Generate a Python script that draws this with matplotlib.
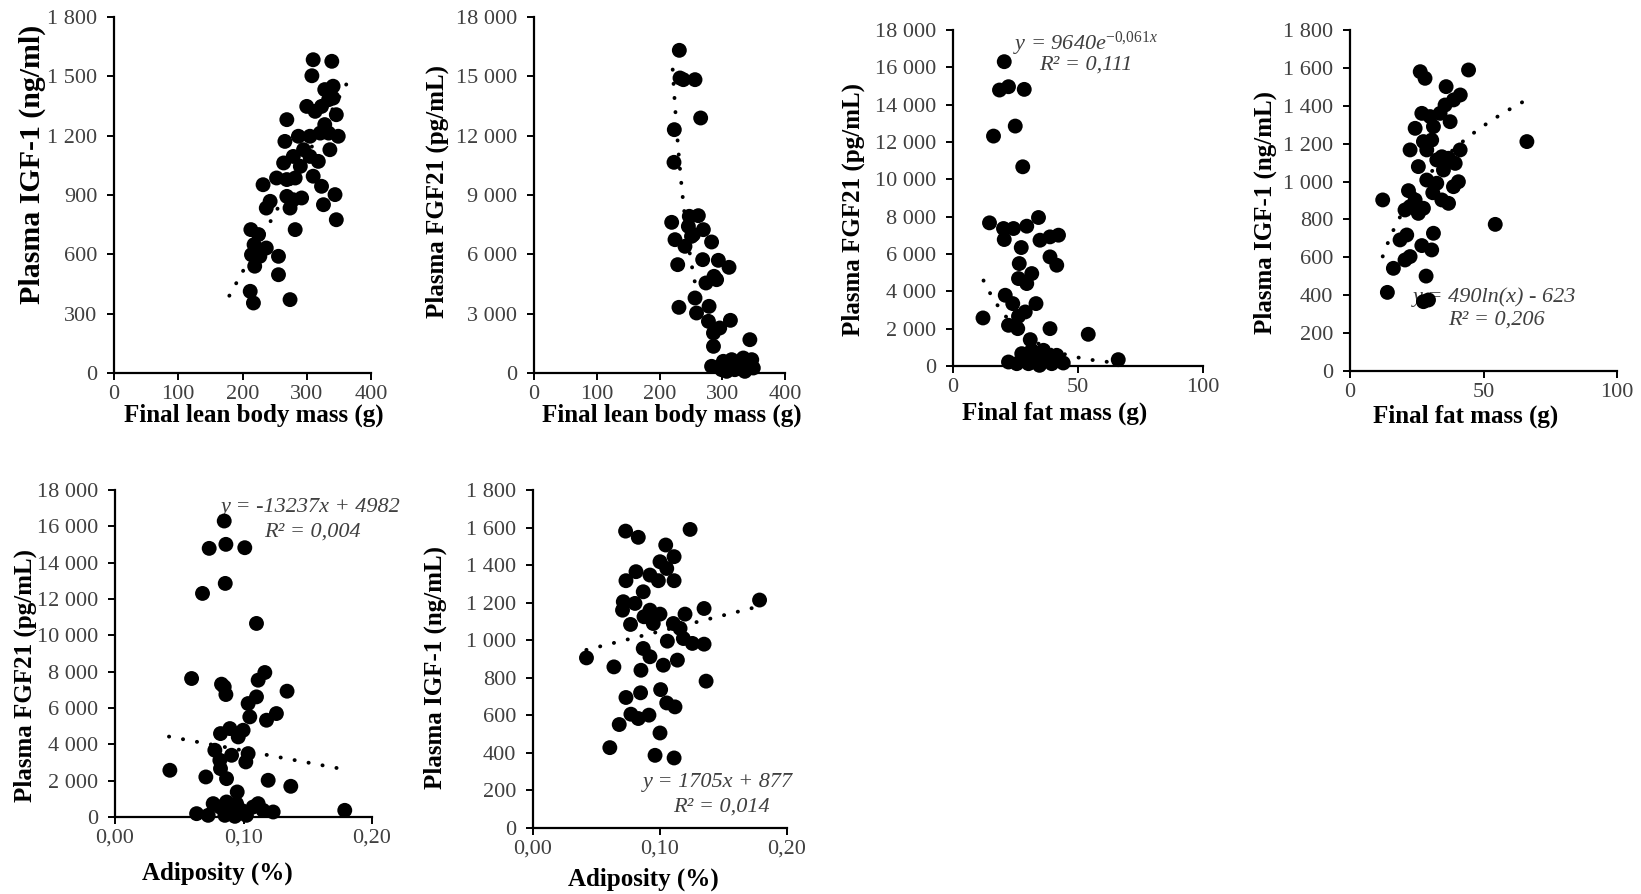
import numpy as np
import matplotlib
matplotlib.use("Agg")
import matplotlib.pyplot as plt
from matplotlib.ticker import FuncFormatter, MultipleLocator

plt.rcParams['font.family'] = ['Liberation Serif', 'DejaVu Serif']
plt.rcParams['mathtext.fontset'] = 'custom'
plt.rcParams['mathtext.rm'] = 'Liberation Serif'
plt.rcParams['mathtext.it'] = 'Liberation Serif:italic'

# panel 1 : IGF-1 vs final lean body mass
lean_a = [310, 339, 308, 328, 341, 341, 300, 313, 323, 334, 346, 328, 269, 321, 334, 349,
          266, 287, 305, 336, 279, 295, 305, 318, 264, 290, 310, 253, 269, 282, 232, 323,
          344, 243, 269, 279, 292, 237, 274, 326, 346, 282, 213, 225, 218, 237, 214, 227,
          256, 219, 256, 212, 217, 274]
igf_a = [1584, 1576, 1503, 1433, 1450, 1390, 1348, 1323, 1348, 1382, 1306, 1256, 1281, 1213,
         1213, 1197, 1171, 1197, 1197, 1129, 1095, 1129, 1095, 1070, 1062, 1045, 995, 986, 978,
         986, 952, 944, 902, 868, 893, 876, 885, 834, 834, 851, 775, 725, 725, 700, 649, 632,
         598, 590, 590, 540, 497, 413, 354, 371]

# panel 2 : FGF21 vs final lean body mass
lean_b = [231.6, 232.7, 238, 256.6, 265.6, 223.6, 223.1, 219.4, 247.5, 261.9, 269.9, 224.7,
          246, 251, 240.6, 254, 283, 229, 268.8, 293.8, 310.8, 274, 286.9, 291, 256.6, 231,
          259, 279, 278, 296, 313, 286, 286, 344, 283, 301.7, 312, 325.6, 333.6, 347, 349.5,
          307, 320, 336, 299, 341.6, 315]
fgf_b = [16315, 14916, 14832, 14832, 12894, 12304, 10652, 7618, 7922, 7955, 7248, 6742,
         7416, 6910, 6405, 6995, 6624, 5478, 5731, 5697, 5343, 4551, 4888, 4719, 3792, 3320,
         3034, 3371, 2612, 2275, 2663, 2022, 1348, 1685, 337, 590, 337, 253, 758, 674, 253,
         84, 168, 84, 168, 337, 674]

# panel 3 : FGF21 vs final fat mass
fat_c = [20.5, 18.6, 22.2, 28.5, 24.9, 16.2, 27.9, 14.6, 34.2, 29.5, 20.2, 24.2, 20.5, 34.8,
         38.8, 42.2, 27.3, 38.8, 41.5, 26.5, 31.5, 26.2, 29.5, 20.9, 23.9, 33.2, 28.9, 26.2,
         12.0, 22.2, 25.9, 38.8, 54.1, 30.9, 22.2, 25.5, 29.5, 31.5, 33.5, 30.2, 34.6, 37.5,
         39.5, 41.5, 44.1, 36.2, 27.5, 66.1]
fgf_c = [16303, 14784, 14962, 14819, 12853, 12317, 10672, 7669, 7955, 7490, 7365, 7365, 6775,
         6739, 6918, 7008, 6346, 5846, 5399, 5488, 4952, 4684, 4416, 3790, 3343, 3343, 2896,
         2663, 2574, 2181, 2002, 2002, 1698, 1412, 214, 125, 483, 840, 661, 125, 36, 483, 125,
         572, 161, 840, 661, 340]

# panel 4 : IGF-1 vs final fat mass
fat_d = [26.3, 28.1, 44.4, 36, 41.3, 35.6, 38.8, 26.9, 30, 37.5, 33.75, 24.4, 31.25, 27.5,
         30.6, 22.5, 28.75, 41.25, 34.4, 36.9, 39.4, 32.5, 25.6, 35, 28.75, 32.5, 40.6, 38.75,
         21.9, 31, 24.4, 34.4, 36.9, 12.25, 20.6, 22.5, 27.5, 25.6, 54.4, 21.25, 18.75, 31.25,
         26.9, 30.6, 22.5, 20.6, 16.25, 28.5, 14, 27.5, 29.4, 66.25]
igf_d = [1580, 1545, 1589, 1501, 1457, 1404, 1431, 1360, 1343, 1316, 1360, 1281, 1290, 1211,
         1219, 1167, 1167, 1167, 1131, 1123, 1096, 1114, 1079, 1061, 1008, 991, 999, 973, 952,
         941, 903, 903, 885, 903, 850, 868, 859, 832, 774, 718, 692, 727, 662, 639, 604, 586,
         542, 501, 415, 366, 375, 1211]

# panel 5 : FGF21 vs adiposity
adip_e = [0.085, 0.0733, 0.0863, 0.101, 0.0858, 0.0681, 0.1101, 0.0596, 0.1166, 0.0829,
          0.085, 0.0863, 0.1114, 0.1101, 0.1339, 0.1036, 0.1049, 0.1179, 0.1256, 0.0894,
          0.0821, 0.0959, 0.0997, 0.0777, 0.0907, 0.0816, 0.1036, 0.1018, 0.0427, 0.0707,
          0.0868, 0.0821, 0.1192, 0.1368, 0.0951, 0.0635, 0.0725, 0.0764, 0.0816, 0.0868,
          0.0907, 0.0946, 0.0984, 0.1023, 0.1075, 0.1114, 0.1153, 0.1231, 0.1788, 0.0855,
          0.0933]
fgf_e = [16293, 14787, 15008, 14824, 12858, 12307, 10654, 7623, 7954, 7311, 7164, 6741, 7531,
         6613, 6925, 6245, 5511, 5327, 5694, 4868, 4592, 4408, 4776, 3674, 3398, 3123, 3490,
         3031, 2572, 2204, 2112, 2663, 2021, 1690, 1378, 184, 92, 735, 551, 827, 184, 735,
         367, 92, 551, 735, 367, 276, 367, 92, 37]

# panel 6 : IGF-1 vs adiposity
adip_f = [0.0729, 0.0829, 0.1237, 0.1045, 0.1111, 0.1, 0.1053, 0.0811, 0.0732, 0.0987,
          0.1111, 0.0921, 0.0868, 0.0711, 0.0803, 0.0705, 0.1347, 0.1784, 0.0921, 0.1,
          0.1197, 0.0874, 0.0768, 0.0947, 0.1105, 0.1158, 0.1184, 0.1255, 0.1347, 0.1058,
          0.0868, 0.0921, 0.1137, 0.0421, 0.0637, 0.085, 0.1026, 0.1363, 0.0732, 0.0847,
          0.1005, 0.1053, 0.1118, 0.0771, 0.0829, 0.0913, 0.0679, 0.1, 0.0605, 0.0961, 0.1111]
igf_f = [1581, 1548, 1590, 1507, 1445, 1418, 1382, 1365, 1317, 1317, 1317, 1347, 1258, 1205,
         1196, 1160, 1169, 1214, 1160, 1139, 1139, 1125, 1084, 1089, 1089, 1063, 1009, 983,
         979, 995, 956, 912, 894, 906, 858, 840, 867, 782, 695, 720, 737, 666, 645, 606, 583,
         601, 551, 506, 428, 387, 373]

lin_a = (5.87, -663.0, 179.5, 364.7)
exp_b = (2.876e7, -0.0341, 221.0, 257.0)
exp_c = (9640.0, -0.061, 12.2, 66.1)
log_d = (490.0, -623.0, 12.25, 65.0)
lin_e = (-13237.0, 4982.0, 0.042, 0.178)
lin_f = (1705.0, 877.0, 0.042, 0.178)

W, H = 1641, 894
fig = plt.figure(figsize=(W / 100, H / 100), dpi=100)

TICK_C = '#404040'


def thousands(v, pos):
    return f"{int(round(v)):,}".replace(",", " ")


def decimals(v, pos):
    return f"{v:.2f}".replace(".", ",")


def make_ax(l, r, t, b):
    return fig.add_axes([l / W, 1 - b / H, (r - l) / W, (b - t) / H])


def style(ax, xmax, xstep, ymax, ystep, xfmt, xlabel, ylabel, xl_pos, yl_pos, ylsize=18):
    ax.set_xlim(0, xmax)
    ax.set_ylim(0, ymax)
    ax.xaxis.set_major_locator(MultipleLocator(xstep))
    ax.yaxis.set_major_locator(MultipleLocator(ystep))
    ax.xaxis.set_major_formatter(FuncFormatter(xfmt))
    ax.yaxis.set_major_formatter(FuncFormatter(thousands))
    for s in ['top', 'right']:
        ax.spines[s].set_visible(False)
    for s in ['left', 'bottom']:
        ax.spines[s].set_linewidth(1.6)
    ax.tick_params(direction='out', length=5, width=1.4, labelsize=16,
                   labelcolor=TICK_C)
    ax.tick_params(axis='x', pad=3.5)
    ax.tick_params(axis='y', pad=7)
    ax.set_xlabel(xlabel, fontsize=18, fontweight='bold')
    ax.xaxis.set_label_coords(*xl_pos)
    ax.xaxis.label.set_va('baseline')
    ax.set_ylabel(ylabel, fontsize=ylsize, fontweight='bold')
    ax.yaxis.set_label_coords(*yl_pos)
    ax.yaxis.label.set_va('center')
    ax.patch.set_alpha(0)


def dots(ax, x, y):
    ax.scatter(x, y, s=115, color='black', edgecolors='none', zorder=3, clip_on=False)


def trend(ax, xs, ys):
    ax.plot(xs, ys, color='black', lw=2.8, linestyle=(0, (0.05, 3.6)),
            dash_capstyle='round', zorder=4, clip_on=False)


def eq(ax, x, y, s):
    ax.text(x, y, s, transform=ax.transAxes, ha='center', va='center', fontsize=16,
            style='italic', color=TICK_C, zorder=2)


# panel 1
ax1 = make_ax(114, 371, 17, 373)
dots(ax1, lean_a, igf_a)
xs = np.linspace(lin_a[2], lin_a[3], 50)
trend(ax1, xs, lin_a[0] * xs + lin_a[1])
style(ax1, 400, 100, 1800, 300, thousands, 'Final lean body mass (g)',
      'Plasma IGF-1 (ng/ml)', (0.545, -0.136), (-0.319, 0.587), ylsize=21.5)

# panel 2
ax2 = make_ax(534, 785, 17, 373)
dots(ax2, lean_b, fgf_b)
xs = np.linspace(exp_b[2], exp_b[3], 80)
trend(ax2, xs, exp_b[0] * np.exp(exp_b[1] * xs))
style(ax2, 400, 100, 18000, 3000, thousands, 'Final lean body mass (g)',
      'Plasma FGF21 (pg/mL)', (0.55, -0.137), (-0.386, 0.51))

# panel 3
ax3 = make_ax(953, 1203, 30, 366)
dots(ax3, fat_c, fgf_c)
xs = np.linspace(exp_c[2], exp_c[3], 80)
trend(ax3, xs, exp_c[0] * np.exp(exp_c[1] * xs))
style(ax3, 100, 50, 18000, 2000, thousands, 'Final fat mass (g)',
      'Plasma FGF21 (pg/mL)', (0.408, -0.158), (-0.40, 0.467))
eq(ax3, 0.53, 0.96, r'y = 9640e$^{\mathit{-0{,}061x}}$')
eq(ax3, 0.53, 0.896, 'R² = 0,111')

# panel 4
ax4 = make_ax(1350, 1617, 30, 371)
dots(ax4, fat_d, igf_d)
xs = np.linspace(log_d[2], log_d[3], 80)
trend(ax4, xs, log_d[0] * np.log(xs) + log_d[1])
style(ax4, 100, 50, 1800, 200, thousands, 'Final fat mass (g)',
      'Plasma IGF-1 (ng/mL)', (0.434, -0.150), (-0.318, 0.466))
eq(ax4, 0.54, 0.217, 'y = 490ln(x) - 623')
eq(ax4, 0.55, 0.15, 'R² = 0,206')

# panel 5
ax5 = make_ax(115, 372, 490, 817)
dots(ax5, adip_e, fgf_e)
xs = np.linspace(lin_e[2], lin_e[3], 20)
trend(ax5, xs, lin_e[0] * xs + lin_e[1])
style(ax5, 0.2, 0.1, 18000, 2000, decimals, 'Adiposity (%)',
      'Plasma FGF21 (pg/mL)', (0.40, -0.190), (-0.35, 0.434))
eq(ax5, 0.76, 0.948, 'y = -13237x + 4982')
eq(ax5, 0.77, 0.872, 'R² = 0,004')

# panel 6
ax6 = make_ax(533, 787, 490, 828)
dots(ax6, adip_f, igf_f)
xs = np.linspace(lin_f[2], lin_f[3], 20)
trend(ax6, xs, lin_f[0] * xs + lin_f[1])
style(ax6, 0.2, 0.1, 1800, 200, decimals, 'Adiposity (%)',
      'Plasma IGF-1 (ng/mL)', (0.433, -0.169), (-0.386, 0.476))
eq(ax6, 0.73, 0.136, 'y = 1705x + 877')
eq(ax6, 0.74, 0.062, 'R² = 0,014')

fig.savefig('out.png', dpi=100)
